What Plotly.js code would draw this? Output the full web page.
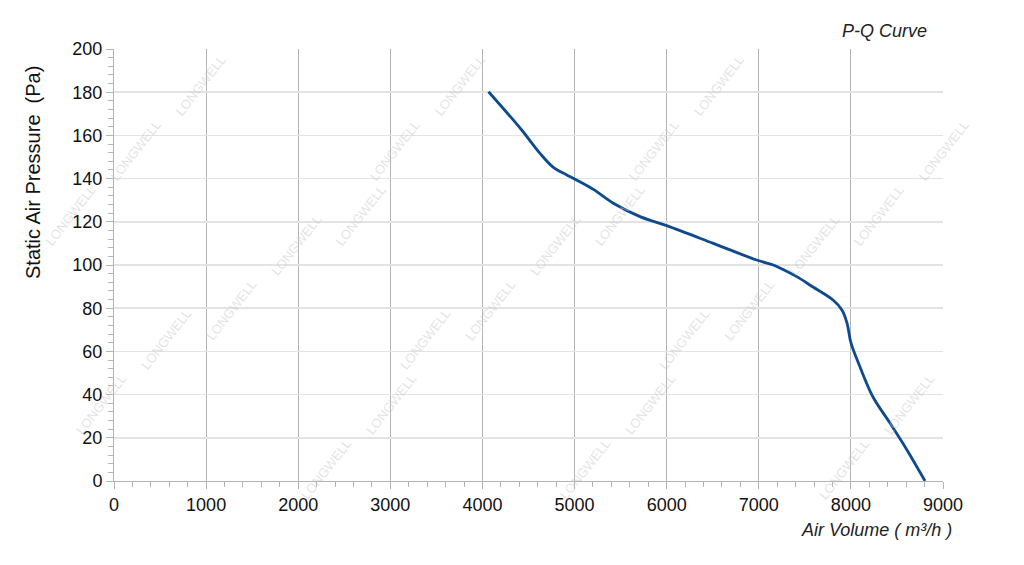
<!DOCTYPE html>
<html>
<head>
<meta charset="utf-8">
<script src="https://cdn.plot.ly/plotly-3.0.1.min.js"></script>
<style>html,body{margin:0;padding:0;background:#fff;}#chart{width:1024px;height:565px;}</style>
</head>
<body>
<div id="chart"></div>
<script>
// Data
const airVolume = [4066, 4426, 4625, 4770, 4915, 5005, 5204, 5421, 5711, 6000, 6507, 6977, 7158, 7230, 7412, 7589, 7806, 7903, 7958, 8001, 8099, 8240, 8425, 8609, 8805];
const staticPressure = [180.2, 162.5, 151.7, 145.2, 141.7, 139.7, 135, 128.6, 122.4, 118.2, 110, 102.3, 100, 98.6, 94.6, 89.8, 83.8, 79.2, 73.1, 63.9, 52.8, 38.9, 26.8, 14.4, 0];
const xTicks = [0, 1000, 2000, 3000, 4000, 5000, 6000, 7000, 8000, 9000];
const yTicks = [0, 20, 40, 60, 80, 100, 120, 140, 160, 180, 200];
const chartTitle = "P-Q Curve";
const xTitle = "Air Volume ( m³/h )";
const yTitle = "Static Air Pressure  (Pa)";
const watermark = "LONGWELL";

const font = "Liberation Sans, Arial, sans-serif";

// watermark annotations (decoration)
const wm = [];
const starts = [[460, 50], [750, 50], [1040, 50], [170, 50], [-120, 50], [1330, 50]];
starts.forEach(s => {
  for (let k = -2; k < 10; k++) {
    const px = s[0] - 65 * k, py = s[1] + 65 * k;
    if (px < 35 || px > 990 || py < 35 || py > 525) continue;
    wm.push({
      xref: 'paper', yref: 'paper',
      x: (px - 114) / 829, y: (481 - py) / 432,
      text: watermark, showarrow: false, textangle: -52,
      font: {family: font, size: 13, color: 'rgba(200,200,200,0.5)'}
    });
  }
});

const trace = {
  x: airVolume, y: staticPressure, type: 'scatter', mode: 'lines',
  line: {color: '#0e4a8e', width: 2.8, shape: 'spline', smoothing: 1},
  hoverinfo: 'x+y'
};

const layout = {
  width: 1024, height: 565,
  margin: {l: 114, r: 81, t: 49, b: 84},
  paper_bgcolor: '#fff', plot_bgcolor: '#fff',
  showlegend: false,
  font: {family: font, size: 18, color: '#111'},
  xaxis: {
    range: [0, 9000], tickvals: xTicks, ticktext: xTicks.map(String),
    showgrid: true, gridcolor: '#b4b4b4', gridwidth: 1,
    zeroline: false, showline: true, linecolor: '#b4b4b4', linewidth: 1,
    ticks: 'outside', ticklen: 7, tickcolor: '#b4b4b4',
    tickfont: {family: font, size: 18, color: '#111'},
    minor: {dtick: 200, ticks: 'outside', ticklen: 5, tickcolor: '#b4b4b4', showgrid: false},
    fixedrange: true
  },
  yaxis: {
    range: [0, 200], tickvals: yTicks, ticktext: yTicks.map(String),
    showgrid: true, gridcolor: '#e3e3e3', gridwidth: 1.5,
    zeroline: false, showline: true, linecolor: '#b4b4b4', linewidth: 1,
    ticks: 'outside', ticklen: 7, tickcolor: '#b4b4b4',
    tickfont: {family: font, size: 18, color: '#111'},
    minor: {dtick: 4, ticks: 'outside', ticklen: 5, tickcolor: '#b4b4b4', showgrid: false},
    fixedrange: true
  },
  annotations: wm.concat([
    {xref: 'paper', yref: 'paper', x: 1.0, y: 1.0, yshift: 18, xanchor: 'right', yanchor: 'middle',
     xshift: -14, text: chartTitle, showarrow: false,
     font: {family: font, size: 18, color: '#222', style: 'italic'}},
    {xref: 'paper', yref: 'paper', x: 1.0, y: 0, xanchor: 'right', yanchor: 'middle',
     xshift: 11, yshift: -49, text: xTitle, showarrow: false,
     font: {family: font, size: 18, color: '#222', style: 'italic'}},
    {xref: 'paper', yref: 'paper', x: 0, y: (481 - 167) / 432, xanchor: 'center', yanchor: 'middle',
     xshift: -81, yshift: -6, text: yTitle, showarrow: false, textangle: -90,
     font: {family: font, size: 20, color: '#111'}}
  ])
};

Plotly.newPlot('chart', [trace], layout, {displayModeBar: false, staticPlot: true});
</script>
</body>
</html>
